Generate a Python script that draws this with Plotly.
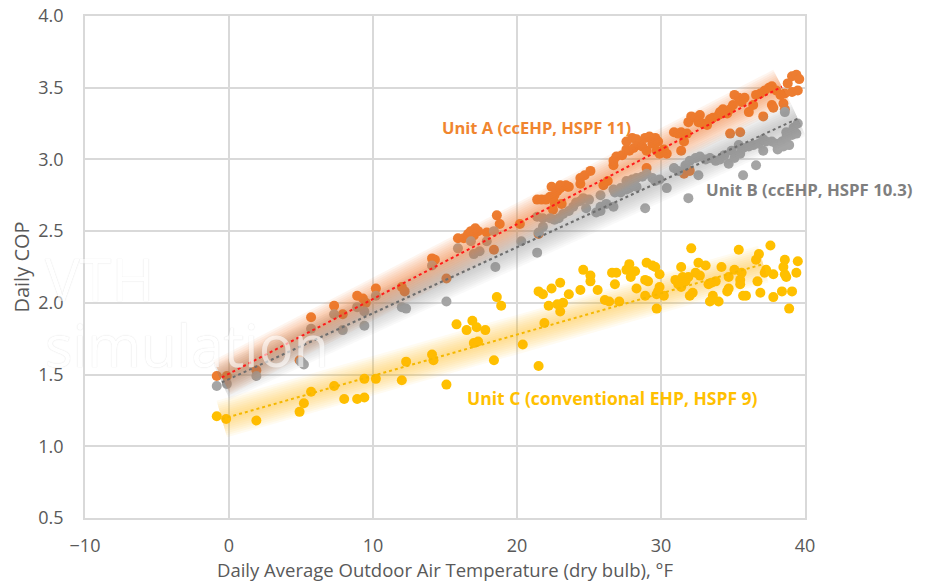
import plotly.graph_objects as go

# ---------------- data ----------------
unit_a_temp = [-0.85, -0.15, 1.9, 4.9, 5.7, 7.3, 7.9, 8.9, 9.3, 9.5, 10.2, 12.0, 12.2, 14.1, 14.3,
               15.1, 15.9, 16.3, 16.6, 16.8, 17.1, 17.0, 17.3, 17.9, 18.4, 18.6, 18.8, 20.2, 21.4,
               21.5, 21.7, 22.0, 22.3, 22.4, 22.5, 22.6, 22.6, 22.8, 23.0, 23.0, 23.1, 23.4, 23.5,
               23.6, 24.4, 24.4, 24.7, 25.1, 26.0, 26.3, 26.7, 26.7, 26.9, 27.3, 27.6, 27.6, 27.8,
               28.0, 28.1, 28.3, 28.5, 28.5, 28.7, 28.9, 29.0, 29.0, 29.2, 29.4, 29.6, 29.7, 29.8,
               29.9, 30.2, 30.4, 30.9, 31.2, 31.4, 31.4, 31.6, 31.6, 31.8, 31.9, 32.0, 32.1, 32.4,
               32.6, 32.7, 32.9, 33.2, 33.4, 33.6, 34.0, 34.1, 34.3, 34.6, 34.8, 34.8, 35.0, 35.1,
               35.4, 35.5, 35.6, 35.8, 36.1, 36.4, 36.6, 36.9, 37.1, 37.2, 37.5, 37.7, 37.7, 37.8,
               38.0, 38.3, 38.5, 38.6, 38.6, 38.8, 39.1, 39.1, 39.4, 39.5, 39.6]
unit_a_cop = [1.49, 1.49, 1.53, 1.60, 1.90, 1.98, 1.92, 2.05, 2.03, 2.00, 2.10, 2.11, 2.08, 2.31, 2.30,
              2.17, 2.45, 2.45, 2.48, 2.50, 2.52, 2.47, 2.50, 2.49, 2.37, 2.61, 2.55, 2.55, 2.72,
              2.48, 2.72, 2.72, 2.74, 2.81, 2.65, 2.75, 2.70, 2.78, 2.80, 2.82, 2.69, 2.82, 2.81,
              2.81, 2.87, 2.83, 2.89, 2.92, 2.82, 2.85, 2.96, 2.99, 3.02, 3.03, 3.07, 3.125, 3.06,
              3.15, 3.08, 3.14, 3.10, 3.11, 3.09, 3.15, 3.06, 2.94, 3.16, 3.11, 3.15, 3.06, 3.125,
              3.04, 3.07, 3.04, 3.19, 3.18, 3.19, 3.06, 3.125, 2.90, 3.18, 3.26, 2.92, 3.30, 3.29,
              3.26, 3.31, 3.25, 3.24, 3.28, 3.29, 3.31, 3.33, 3.35, 3.32, 3.35, 3.18, 3.38, 3.45,
              3.43, 3.19, 3.40, 3.43, 3.33, 3.38, 3.45, 3.46, 3.30, 3.48, 3.50, 3.51, 3.38, 3.36,
              3.48, 3.45, 3.39, 3.46, 3.35, 3.53, 3.58, 3.47, 3.59, 3.48, 3.56]

unit_b_temp = [-0.85, -0.15, 1.9, 5.0, 5.2, 5.7, 7.3, 7.9, 8.9, 9.4, 9.4, 10.2, 12.0, 12.3, 14.1,
               15.1, 15.9, 16.8, 17.0, 17.4, 17.9, 18.4, 18.5, 20.3, 21.4, 21.4, 21.5, 21.8, 21.8,
               22.3, 22.6, 22.9, 23.2, 23.6, 23.9, 24.1, 24.4, 24.6, 24.8, 25.0, 25.5, 25.8, 25.8,
               25.8, 26.2, 26.7, 26.7, 26.8, 27.2, 27.2, 27.6, 27.6, 27.8, 28.0, 28.1, 28.3, 28.3,
               28.7, 28.9, 29.0, 29.4, 29.6, 29.9, 30.4, 30.9, 31.2, 31.7, 31.9, 32.0, 32.4, 32.6,
               32.7, 33.1, 33.4, 33.8, 34.1, 34.4, 34.7, 34.9, 35.1, 35.4, 35.5, 35.7, 35.7, 36.1,
               36.4, 36.6, 36.8, 37.1, 37.1, 37.3, 37.7, 38.0, 38.1, 38.4, 38.5, 38.6, 38.7, 38.7,
               38.9, 39.1, 39.2, 39.4, 39.5]
unit_b_cop = [1.42, 1.435, 1.49, 1.59, 1.57, 1.82, 1.92, 1.81, 1.97, 1.84, 1.94, 2.05, 1.97, 1.96, 2.26,
              2.01, 2.38, 2.43, 2.34, 2.36, 2.43, 2.50, 2.25, 2.43, 2.35, 2.60, 2.49, 2.59, 2.53,
              2.59, 2.58, 2.59, 2.62, 2.64, 2.67, 2.70, 2.71, 2.73, 2.66, 2.72, 2.63, 2.67, 2.75,
              2.64, 2.69, 2.67, 2.79, 2.77, 2.77, 2.80, 2.79, 2.85, 2.80, 2.86, 2.82, 2.81, 2.87,
              2.88, 2.66, 2.90, 2.87, 2.85, 2.86, 2.80, 2.94, 2.92, 2.96, 2.73, 2.99, 3.01, 2.89,
              3.02, 3.00, 3.01, 2.99, 3.00, 3.03, 2.97, 3.06, 3.01, 3.10, 3.04, 3.08, 2.89, 3.09,
              3.10, 2.96, 3.11, 3.14, 3.06, 3.125, 3.125, 3.11, 3.07, 3.125, 3.09, 3.33, 3.15, 3.19,
              3.10, 3.17, 3.22, 3.18, 3.25]

unit_c_temp = [-0.85, -0.2, 1.9, 4.9, 5.2, 5.7, 7.3, 8.0, 8.9, 9.4, 9.4, 10.2, 12.0, 12.3, 14.1,
               14.2, 15.1, 15.8, 16.5, 16.9, 17.2, 17.8, 17.0, 17.3, 18.4, 18.6, 18.9, 20.4, 21.5,
               21.5, 21.8, 21.9, 22.2, 22.4, 22.8, 23.0, 23.0, 23.2, 23.6, 24.4, 24.6, 25.1, 25.1,
               25.6, 26.1, 26.4, 26.6, 26.9, 26.8, 27.1, 27.6, 27.8, 27.9, 28.2, 28.3, 28.9, 28.9,
               29.1, 29.0, 29.4, 29.6, 29.7, 29.8, 29.9, 29.9, 29.7, 30.2, 31.0, 31.2, 31.4, 31.7,
               31.9, 31.5, 31.4, 32.1, 32.0, 32.2, 32.4, 32.6, 32.7, 33.1, 33.3, 33.5, 33.8, 33.4,
               33.6, 34.0, 34.2, 34.7, 34.7, 34.6, 35.4, 35.1, 35.6, 35.5, 35.5, 35.7, 35.9, 36.6,
               36.8, 36.7, 36.9, 37.2, 37.3, 37.6, 37.8, 37.8, 38.4, 38.6, 38.5, 38.6, 38.7, 38.9,
               39.1, 39.4, 39.5]
unit_c_cop = [1.21, 1.19, 1.18, 1.24, 1.30, 1.38, 1.42, 1.33, 1.33, 1.34, 1.47, 1.47, 1.46, 1.59, 1.64,
              1.60, 1.43, 1.85, 1.81, 1.875, 1.83, 1.81, 1.72, 1.73, 1.60, 2.04, 1.98, 1.71, 1.56,
              2.08, 2.06, 1.86, 1.98, 2.10, 1.99, 1.94, 2.14, 2.00, 2.06, 2.09, 2.23, 2.19, 2.15,
              2.09, 2.02, 2.01, 2.21, 2.21, 2.13, 2.01, 2.23, 2.27, 2.18, 2.22, 2.10, 2.05, 2.16,
              2.15, 2.28, 2.26, 2.25, 1.96, 2.08, 2.20, 2.11, 2.06, 2.05, 2.16, 2.13, 2.11, 2.15,
              2.18, 2.18, 2.25, 2.38, 2.05, 2.07, 2.21, 2.28, 2.19, 2.26, 2.13, 2.14, 2.15, 2.01,
              2.05, 2.01, 2.25, 2.18, 2.10, 2.08, 2.37, 2.23, 2.21, 2.16, 2.13, 2.05, 2.05, 2.30,
              2.34, 2.15, 2.07, 2.21, 2.23, 2.40, 2.04, 2.20, 2.08, 2.30, 2.25, 2.20, 2.18, 1.96,
              2.08, 2.21, 2.29]

# linear trendlines as drawn in the reference (start / end points)
trend_a_temp = [-0.5, 38.4]
trend_a_cop = [1.48, 3.507]
trend_b_temp = [-0.5, 39.5]
trend_b_cop = [1.445, 3.285]
trend_c_temp = [-0.5, 37.1]
trend_c_cop = [1.19, 2.27]

x_ticks = [-10, 0, 10, 20, 30, 40]
y_ticks = [0.5, 1.0, 1.5, 2.0, 2.5, 3.0, 3.5, 4.0]

label_a = "Unit A (ccEHP, HSPF 11)"
label_b = "Unit B (ccEHP, HSPF 10.3)"
label_c = "Unit C (conventional EHP, HSPF 9)"
x_title = "Daily Average Outdoor Air Temperature (dry bulb), °F"
y_title = "Daily COP"

# ---------------- styles ----------------
ORANGE = "#ED7D31"
GRAY = "#A5A5A5"
GOLD = "#FFC000"
TEXT = "#595959"
GRID = "#D9D9D9"
FONT = "Open Sans"

fig = go.Figure()

for xs, ys, col in [(unit_a_temp, unit_a_cop, ORANGE),
                    (unit_b_temp, unit_b_cop, GRAY),
                    (unit_c_temp, unit_c_cop, GOLD)]:
    fig.add_trace(go.Scatter(x=xs, y=ys, mode="markers",
                             marker=dict(size=10, color=col, line=dict(width=0)),
                             showlegend=False, hoverinfo="skip"))

glows = [
    (trend_a_temp, trend_a_cop, (240, 115, 35), 0.075),
    (trend_b_temp, trend_b_cop, (140, 140, 140), 0.05),
    (trend_c_temp, trend_c_cop, (255, 195, 20), 0.06),
]
for tx, ty, rgb, a in glows:
    for w in [38, 34, 30, 26, 22, 18, 14, 10, 6]:
        fig.add_trace(go.Scatter(x=tx, y=ty, mode="lines",
                                 line=dict(width=w, color=f"rgba({rgb[0]},{rgb[1]},{rgb[2]},{a})"),
                                 showlegend=False, hoverinfo="skip"))

for tx, ty, col in [(trend_a_temp, trend_a_cop, "#FF1A1A"),
                    (trend_b_temp, trend_b_cop, "#6E6E6E"),
                    (trend_c_temp, trend_c_cop, "#F5B800")]:
    fig.add_trace(go.Scatter(x=tx, y=ty, mode="lines",
                             line=dict(width=2, color=col, dash="dot"),
                             showlegend=False, hoverinfo="skip"))

WM = dict(family=FONT, size=58, color="white", shadow="0px 0px 1px #bdbdbd")
annotations = [
    dict(x=21.35, y=3.222, text=f"<b>{label_a}</b>", showarrow=False, xanchor="center",
         font=dict(family=FONT, size=16.5, color="#F0852F")),
    dict(x=33.0, y=2.79, text=f"<b>{label_b}</b>", showarrow=False, xanchor="left",
         font=dict(family=FONT, size=16.8, color="#7F7F7F")),
    dict(x=26.63, y=1.34, text=f"<b>{label_c}</b>", showarrow=False, xanchor="center",
         font=dict(family=FONT, size=17.5, color=GOLD)),
    dict(xref="paper", yref="paper", x=-0.058, y=0.478, xanchor="left", yanchor="middle",
         text="VTH", showarrow=False, font=WM, opacity=0.6),
    dict(xref="paper", yref="paper", x=-0.058, y=0.345, xanchor="left", yanchor="middle",
         text="simulation", showarrow=False, font=WM, opacity=0.6),
]

# the page body adds an 8px offset: the figure is sized so the plot lands where the reference has it
fig.update_layout(
    width=920, height=577, autosize=False,
    margin=dict(l=77, r=123, t=8, b=67, pad=0),
    paper_bgcolor="white", plot_bgcolor="white",
    showlegend=False,
    annotations=annotations,
    font=dict(family=FONT, color=TEXT),
)
fig.update_xaxes(range=[-10, 40], tickvals=x_ticks, showgrid=True, gridcolor=GRID, gridwidth=1.5,
                 zeroline=False, showline=True, linecolor=GRID, linewidth=1.5, mirror=True,
                 automargin=False, ticklabeloverflow="allow",
                 tickfont=dict(family=FONT, size=18, color=TEXT), ticks="", ticklabelstandoff=11,
                 title=dict(text=x_title, font=dict(family=FONT, size=18.5, color=TEXT), standoff=8))
fig.update_yaxes(range=[0.5, 4.0], tickvals=y_ticks, tickformat=".1f", showgrid=True, gridcolor=GRID,
                 gridwidth=1.5, zeroline=False, showline=True, linecolor=GRID, linewidth=1.5, mirror=True,
                 automargin=False, ticklabeloverflow="allow",
                 tickfont=dict(family=FONT, size=18, color=TEXT), ticks="", ticklabelstandoff=16,
                 title=dict(text=y_title, font=dict(family=FONT, size=20, color=TEXT), standoff=10))

fig.write_html("out.html")
